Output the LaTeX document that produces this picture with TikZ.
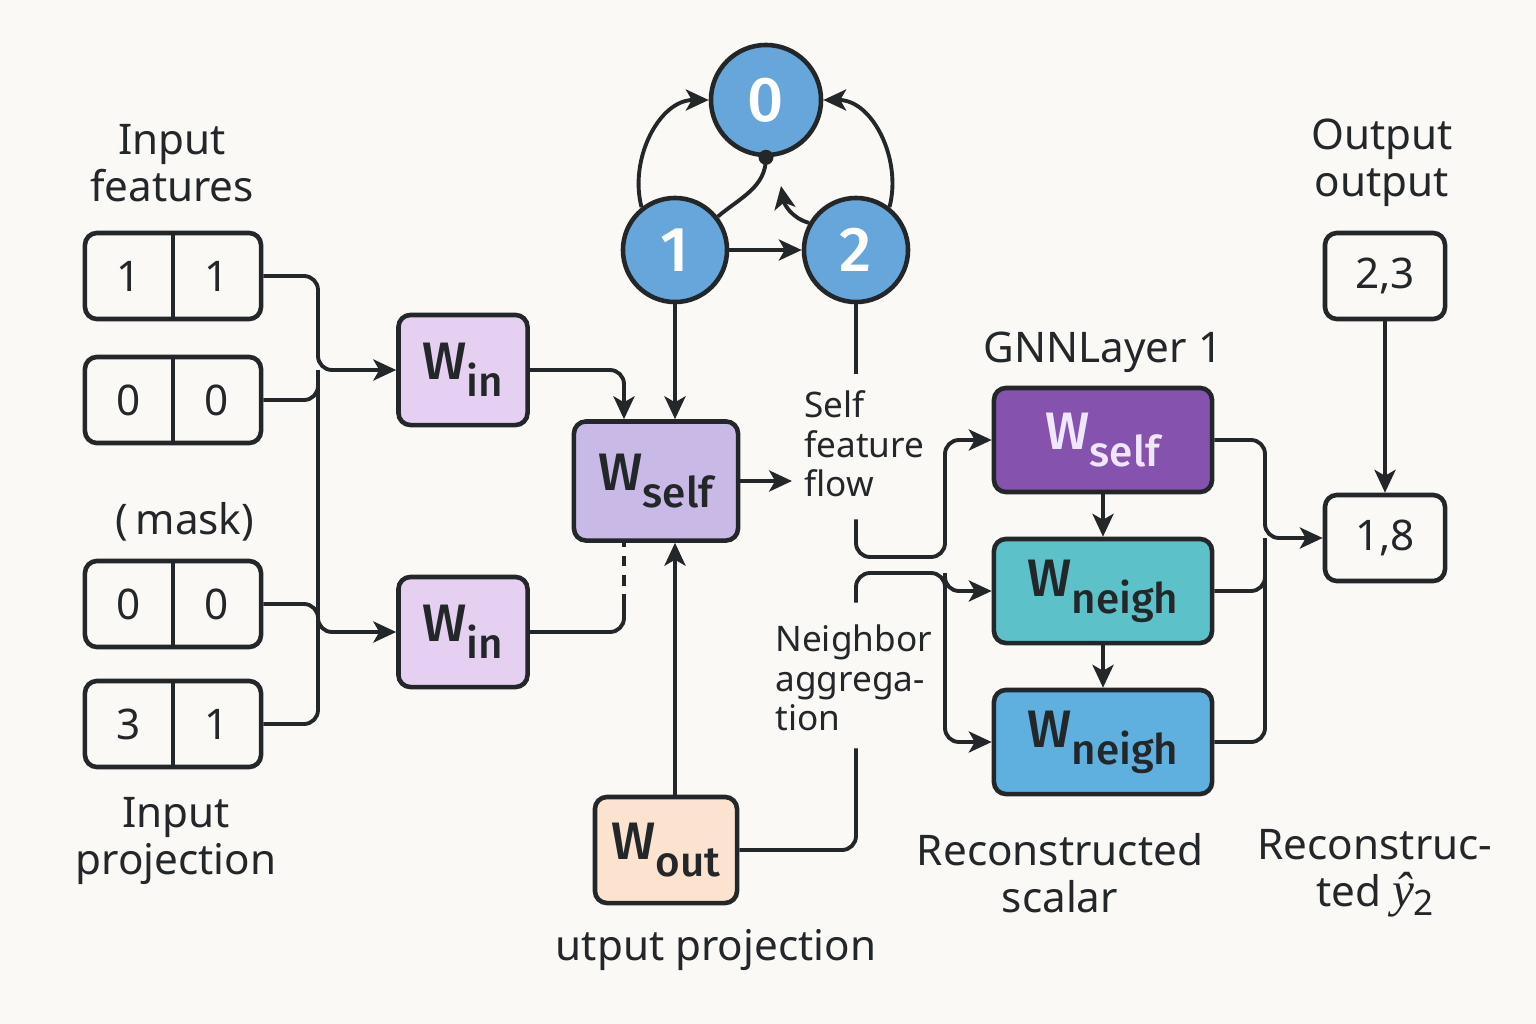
\documentclass[tikz,border=0pt]{standalone}
\usepackage{fontspec}
\setmainfont{Noto Sans}
\newfontfamily\wfont{Fira Sans}[BoldFont={Fira Sans Medium}]
\newfontfamily\yfont{Liberation Serif}
\usetikzlibrary{arrows.meta,positioning}
\definecolor{bgcol}{HTML}{FAF9F5}
\definecolor{ink}{HTML}{23272A}
\definecolor{winfill}{HTML}{E6D0F2}
\definecolor{selffill}{HTML}{C9B9E6}
\definecolor{outfill}{HTML}{FBE3CF}
\definecolor{gselffill}{HTML}{8552AE}
\definecolor{gselftxt}{HTML}{F1E6FF}
\definecolor{neighA}{HTML}{5DC1C9}
\definecolor{neighB}{HTML}{5FB0DE}
\definecolor{graphfill}{HTML}{66A6DA}
\newcommand{\Wlab}[1]{W\raisebox{-0.6ex}{\fontsize{12}{12}\selectfont #1}}

\begin{document}
\begin{tikzpicture}[x=0.01cm, y=-0.01cm,
    >={Stealth[length=6.5pt,width=6pt,inset=1.7pt]},
    conn/.style={draw=ink, line width=1.1pt, rounded corners=0.14cm},
    boxline/.style={draw=ink, line width=1.3pt},
    cellbox/.style={boxline, rounded corners=0.12cm, minimum width=1.76cm, minimum height=0.86cm},
    celltxt/.style={font=\fontsize{12}{12}\selectfont, text=ink},
    wbox/.style={boxline, rounded corners=0.12cm, font=\wfont\bfseries\fontsize{15}{15}\selectfont, text=ink},
    gnode/.style={circle, boxline, fill=graphfill, text=white, font=\wfont\bfseries\fontsize{18}{18}\selectfont},
    lbl/.style={align=center, text=ink, font=\fontsize{12}{13.5}\selectfont},
    sidelbl/.style={align=left, text=ink, font=\fontsize{10}{11.2}\selectfont}]

    \fill[bgcol] (0,0) rectangle (1536,1024);
    \useasboundingbox (0,0) rectangle (1536,1024);

    % input features
    \node[lbl] (lblin) at (172,163) {Input\\features};
    \node[lbl] (lblmask) at (185,522) {(\,mask)};
    \node[lbl] (lblproj) at (176,841) {Input\\projection};
    \foreach \nm/\yy/\a/\b in {in1/276/1/1, in2/400/0/0, in3/604/0/0, in4/724/3/1}{
        \node[cellbox] (\nm) at (173,\yy) {};
        \draw[boxline] (\nm.north) -- (\nm.south);
        \node[celltxt] (\nm-a) at ([xshift=-0.44cm]\nm.center) {\a};
        \node[celltxt] (\nm-b) at ([xshift=0.44cm]\nm.center) {\b};
    }

    \node[wbox, fill=winfill, minimum width=1.29cm, minimum height=1.10cm] (win1) at (463,370) {\Wlab{in}};
    \node[wbox, fill=winfill, minimum width=1.29cm, minimum height=1.10cm] (win2) at (463,632) {\Wlab{in}};
    \coordinate (busL) at (318,370);
    \draw[conn,->] (in1.east) -| (busL |- win1.west) -- (win1.west);
    \draw[conn] (in2.east) -| (busL |- win1.west);
    \draw[conn] (busL |- win1.west) -- (busL |- win2.west);
    \draw[conn,->] (in3.east) -| (busL |- win2.west) -- (win2.west);
    \draw[conn] (in4.east) -| (busL |- win2.west);

    % graph
    \node[gnode, minimum size=1.10cm] (n0) at (766,100) {0};
    \node[gnode, minimum size=1.04cm] (n1) at (675,250) {1};
    \node[gnode, minimum size=1.04cm] (n2) at (856,250) {2};
    \coordinate (tip2) at (781,186);
    \draw[conn,->] (n1.128) to[out=105,in=180] (n0.west);
    \draw[conn,->] (n2.52) to[out=75,in=0] (n0.east);
    \draw[conn,->] (n1.east) -- (n2.west);
    \draw[conn] (n0.south) to[out=-90,in=40] (n1.38);
    \fill[ink] (n0.south) circle (0.075cm);
    \draw[conn,->] (n2.150) to[out=165,in=-80] (tip2);

    % self projection
    \node[wbox, fill=selffill, minimum width=1.64cm, minimum height=1.19cm] (wself) at (656,481) {\Wlab{self}};
    \node[wbox, fill=outfill, minimum width=1.42cm, minimum height=1.06cm] (wout) at (666,850) {\Wlab{out}};
    \node[lbl] (lblop) at (716,950) {utput projection};
    \coordinate (dj) at (624,605);
    \draw[conn,->] (win1.east) -| ([xshift=-0.32cm]wself.north);
    \draw[conn] (win2.east) -| (dj);
    \draw[conn, dash pattern=on 3pt off 2.5pt] (dj) -- (dj |- wself.south);
    \draw[conn,->] (n1.south) -- (n1.south |- wself.north);
    \draw[conn,->] (n1.south |- wout.north) -- (n1.south |- wself.south);

    % side labels
    \node[sidelbl, anchor=west] (selflbl) at (792,444) {Self\\feature\\flow};
    \node[sidelbl, anchor=west] (agglbl) at (763,678) {Neighbor\\aggrega-\\tion};
    \draw[conn,->] (wself.east) -- (wself.east -| selflbl.west);

    % GNN layer
    \node[lbl] (lblgnn) at (1103,352) {GNNLayer 1};
    \node[wbox, fill=gselffill, text=gselftxt, minimum width=2.18cm, minimum height=1.04cm] (gself) at (1103,440) {\Wlab{self}};
    \node[wbox, fill=neighA, minimum width=2.18cm, minimum height=1.04cm] (gneigh1) at (1103,591) {\Wlab{neigh}};
    \node[wbox, fill=neighB, minimum width=2.18cm, minimum height=1.04cm] (gneigh2) at (1103,742) {\Wlab{neigh}};
    \draw[conn,->] (gself.south) -- (gneigh1.north);
    \draw[conn,->] (gneigh1.south) -- (gneigh2.north);

    \coordinate (busS) at (945,557);
    \coordinate (busN) at (945,573);
    \draw[conn] (n2.south) -- ([yshift=0.05cm]n2.south |- selflbl.north);
    \draw[conn,->] ([yshift=-0.1cm]n2.south |- selflbl.south) |- (busS) |- (gself.west);
    \draw[conn] (wout.east) -| ([yshift=-0.05cm]n2.south |- agglbl.south);
    \draw[conn,->] ([yshift=0.1cm]n2.south |- agglbl.north) |- (busN) |- (gneigh1.west);
    \draw[conn,->] (busN) |- (gneigh2.west);

    % outputs
    \node[lbl] (lblout) at (1382,163) {Output\\output};
    \node[cellbox, minimum width=1.20cm, celltxt] (outa) at (1385,276) {2,3};
    \node[cellbox, minimum width=1.20cm, celltxt] (outb) at (1385,538) {1,8};
    \draw[conn,->] (outa.south) -- (outb.north);
    \coordinate (busR) at (1265,538);
    \draw[conn,->] (gself.east) -| (busR) -- (outb.west);
    \draw[conn] (gneigh1.east) -| (busR);
    \draw[conn] (gneigh2.east) -| (busR);

    \node[lbl] (lblrs) at (1060,873) {Reconstructed\\scalar};
    \node[lbl] (lblry) at (1375,873) {Reconstruc-\\ted {\yfont\itshape\fontsize{14}{14}\selectfont ŷ}\raisebox{-0.4ex}{\fontsize{10}{10}\selectfont 2}};
\end{tikzpicture}
\end{document}
